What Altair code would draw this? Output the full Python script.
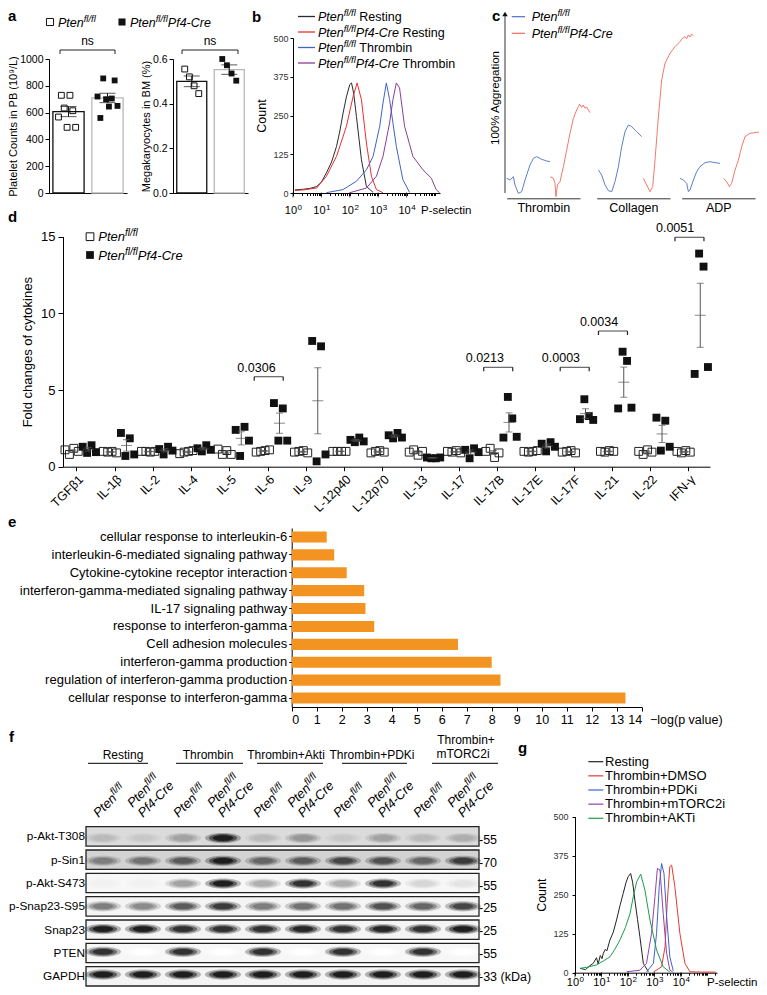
import altair as alt
import pandas as pd

FONT = "Liberation Sans"
W, H = 751, 979


def cx(v):
    return v - 8


def cy(v):
    return v - 8


ONE = pd.DataFrame({"k": [0]})

_chars = " !%()+-./0123456789:ABCDEFGHIJKLMNOPQRSTUVWXYZabcdefghijklmnopqrstuvwxyz"
_wid = ([278, 278, 889, 333, 333, 584, 333, 278, 278] + [556] * 10 + [278]
        + [667, 667, 722, 722, 667, 611, 778, 722, 278, 500, 667, 556, 833, 722, 778, 667, 778, 722, 667, 611, 722, 667, 944, 667, 667, 611]
        + [556, 556, 500, 556, 556, 278, 556, 556, 222, 222, 500, 222, 833, 556, 556, 556, 556, 333, 500, 278, 556, 500, 722, 500, 500, 500])
AW = dict(zip(_chars, _wid))


def tw(s, fs):
    return sum(AW.get(ch, 556) for ch in s) * fs / 1000.0


def txt(text, x, y, fs=12.5, style="normal", weight="normal", align="left", baseline="middle", color="black", angle=0):
    return alt.Chart(ONE).mark_text(text=text, font=FONT, fontSize=fs, fontStyle=style, fontWeight=weight,
                                    align=align, baseline=baseline, color=color, angle=angle).encode(
        x=alt.value(x), y=alt.value(y))


def rich(x, y, parts, fs=12.5, sfs=9.5, color="black"):
    out, cur = [], x
    for t, kind in parts:
        lead = len(t) - len(t.lstrip(" "))
        t2 = t.lstrip(" ")
        if kind == "sup":
            cur += tw(" " * lead, sfs)
            out.append(txt(t2, cur, y - fs * 0.4, fs=sfs, style="italic", color=color, baseline="alphabetic"))
            cur += tw(t2, sfs)
        else:
            cur += tw(" " * lead, fs)
            out.append(txt(t2, cur, y, fs=fs, style="italic" if kind == "i" else "normal", color=color, baseline="alphabetic"))
            cur += tw(t2, fs)
    return out


def hrule(x1, x2, y, color="#222222", w=1.0):
    return alt.Chart(ONE).mark_rule(color=color, strokeWidth=w).encode(x=alt.value(x1), x2=alt.value(x2), y=alt.value(y))


def vrule(x, y1, y2, color="#222222", w=1.0):
    return alt.Chart(ONE).mark_rule(color=color, strokeWidth=w).encode(x=alt.value(x), y=alt.value(y1), y2=alt.value(y2))


def sq(x, y, filled, size=50):
    return alt.Chart(ONE).mark_point(shape="square", filled=filled, size=size, color="#111111", strokeWidth=1,
                                     opacity=1).encode(x=alt.value(x), y=alt.value(y))


FL = [("Pten", "i"), ("fl/fl", "sup")]
CRE = FL + [("Pf4-Cre", "i")]

# ---------------- data ----------------
# a
a1_fl = [567, 729, 634, 490, 729, 614, 490]
a1_cre = [720, 560, 855, 700, 645, 705, 840, 650]
a2_fl = [0.555, 0.52, 0.48, 0.445]
a2_cre = [0.6, 0.572, 0.535, 0.503]

# b (P-selectin intensity, count)
b_rest_x = [1.17, 2.3, 4, 6.8, 10, 15, 22.8, 34, 44.7, 58, 76, 100, 115, 138, 171, 257, 385, 660]
b_rest_c = [10, 12, 15, 21, 35, 65, 100, 150, 200, 258, 310, 350, 355, 320, 247, 107, 21, 2]
b_crerest_x = [1.17, 2.3, 6.8, 15, 34, 76, 131, 181, 257, 385, 577, 865, 1475]
b_crerest_c = [8, 10, 16, 54, 118, 215, 312, 355, 301, 161, 54, 11, 1]
b_thr_x = [15, 58, 171, 385, 660, 1130, 1475, 1940, 2520, 4350, 7400, 12700]
b_thr_c = [1, 11, 38, 75, 118, 215, 290, 355, 301, 150, 43, 2]
b_crethr_x = [100, 385, 865, 1475, 2520, 3300, 4350, 5650, 8500, 16700, 37500, 74000, 110000, 145000]
b_crethr_c = [1, 16, 54, 118, 226, 301, 355, 339, 215, 118, 75, 48, 11, 1]

# c (time, % aggregation)
thr_fl_t = [0, 3.3, 6.7, 8.3, 11.7, 15, 18.3, 23.3, 26.7, 30, 35, 40, 43.3]
thr_fl_v = [1, 0, 2, -3, -8, -7, 0, 9, 13, 14, 12.4, 11.4, 11]
thr_cre_t = [43.3, 46.7, 48.3, 49.3, 50.7, 53.3, 56.7, 60, 63.3, 66.7, 70, 71.7, 73, 75, 76.5, 78.3, 80, 81.7, 83.3]
thr_cre_v = [2, 1, -2, -10, -3, -1, 8, 18, 28, 37, 42, 44, 45.5, 43.6, 45, 43, 43.8, 42, 40.4]
col_fl_t = [1.7, 5, 8.3, 11.7, 15, 18.3, 21.7, 25, 28.3, 31.7, 35, 40, 45]
col_fl_v = [6, 3, -3, -6.4, -7, -1, 8, 20, 29, 33, 32, 29, 26]
col_cre_t = [46.7, 50, 53.3, 56, 58.3, 61.7, 65, 68.3, 73.3, 78.3, 83.3, 85, 88.3, 90, 91.7, 93.3, 95, 96.7]
col_cre_v = [1, -3, -7, -4, 12, 38, 60, 70, 76, 80, 83, 84.5, 86, 84.8, 87, 85.8, 87.5, 86.5]
adp_fl_t = [-1.7, 1.7, 5, 6.7, 8.3, 11.7, 15, 18.3, 23.3, 28.3, 33.3, 38.3]
adp_fl_v = [1, 0, -2, -7, -6, 0, 5, 8, 10.4, 11, 10.4, 10]
adp_cre_t = [41.7, 45, 47.7, 50, 53.3, 56.7, 60, 63.3, 68.3, 75, 80, 85]
adp_cre_v = [1, -1, -4, -2, 6, 12, 20, 26, 28, 28.6, 29, 28]

# d
d_cats = ["TGFβ1", "IL-1β", "IL-2", "IL-4", "IL-5", "IL-6", "IL-9", "L-12p40", "L-12p70", "IL-13",
          "IL-17", "IL-17B", "IL-17E", "IL-17F", "IL-21", "IL-22", "IFN-γ"]
d_fl = [[1.1, 0.8, 1.2, 1.0], [1.0, 0.95, 1.0, 0.9], [1.0, 1.0, 0.95, 1.0], [0.85, 0.95, 1.0, 1.05],
        [1.15, 0.8, 1.05, 0.8], [0.95, 1.0, 1.05, 1.1], [0.95, 1.0, 1.05, 0.9], [1.0, 1.0, 1.0, 1.0],
        [0.9, 1.0, 1.05, 0.95], [0.95, 1.1, 0.75, 1.0], [1.0, 0.95, 1.05, 0.9], [1.0, 1.2, 0.6, 0.9],
        [1.0, 0.95, 1.0, 1.05], [0.95, 1.0, 1.05, 0.9], [1.0, 0.95, 1.05, 1.0], [1.0, 0.8, 1.1, 0.95],
        [1.0, 0.9, 1.05, 0.95]]
d_cre = [[1.3, 0.9, 1.4, 0.95], [2.2, 0.7, 1.85, 0.8], [1.15, 0.8, 1.3, 1.05], [1.2, 1.0, 1.4, 1.1],
         [2.4, 0.7, 2.6, 1.7], [4.15, 1.7, 3.8, 1.7], [8.2, 0.35, 7.85, 0.8], [1.75, 1.6, 1.9, 1.65],
         [2.05, 1.85, 2.2, 1.9], [0.6, 0.55, 0.55, 0.6], [1.1, 0.55, 1.2, 0.95], [1.9, 4.55, 3.15, 1.95],
         [1.5, 1.0, 1.6, 1.3], [3.1, 4.4, 3.3, 3.05], [3.8, 7.5, 6.9, 3.85], [3.2, 1.05, 3.0, 1.3],
         [6.05, 13.9, 13.05, 6.5]]
d_p_cats = ["IL-6", "IL-17B", "IL-17F", "IL-21", "IFN-γ"]
d_p_level = [5.87, 6.48, 6.48, 8.85, 14.96]
d_p_text = ["0.0306", "0.0213", "0.0003", "0.0034", "0.0051"]

# e
e_terms = ["cellular response to interleukin-6", "interleukin-6-mediated signaling pathway",
           "Cytokine-cytokine receptor interaction", "interferon-gamma-mediated signaling pathway",
           "IL-17 signaling pathway", "response to interferon-gamma", "Cell adhesion molecules",
           "interferon-gamma production", "regulation of interferon-gamma production",
           "cellular response to interferon-gamma"]
e_vals = [1.4, 1.7, 2.2, 2.9, 2.95, 3.3, 6.65, 8.0, 8.35, 13.35]

# f
proteins = ["p-Akt-T308", "p-Sin1", "p-Akt-S473", "p-Snap23-S95", "Snap23", "PTEN", "GAPDH"]
mw_labels = ["-55", "-70", "-55", "-25", "-25", "-55", "-33 (kDa)"]
blot_bg = [0.13, 0.16, 0.03, 0.04, 0.04, 0.03, 0.04]
blot_T308 = [0.25, 0.2, 0.35, 0.95, 0.25, 0.4, 0.2, 0.35, 0.25, 0.3]
blot_Sin1 = [0.5, 0.55, 0.65, 0.95, 0.6, 0.65, 0.75, 0.7, 0.6, 0.8]
blot_S473 = [0.05, 0.05, 0.35, 0.95, 0.3, 0.85, 0.3, 0.85, 0.15, 0.1]
blot_S95 = [0.5, 0.45, 0.65, 0.8, 0.5, 0.55, 0.55, 0.7, 0.6, 0.75]
blot_Snap23 = [0.95, 0.95, 0.85, 0.85, 0.85, 0.9, 0.85, 0.9, 0.85, 0.95]
blot_PTEN = [0.85, 0, 0.85, 0, 0.85, 0, 0.85, 0, 0.85, 0]
blot_GAPDH = [0.95, 0.95, 0.95, 0.95, 0.95, 0.95, 0.95, 0.95, 0.95, 0.95]
blot_rows = [blot_T308, blot_Sin1, blot_S473, blot_S95, blot_Snap23, blot_PTEN, blot_GAPDH]
lane_geno = ["fl", "cre"] * 5

# g
g_rest_x = [1.55, 2.5, 3.6, 4.9, 6.5, 7.5, 9, 10.5, 11.7, 14, 16, 20.9, 28, 37, 50, 66, 85, 102, 126, 150, 182, 230, 282, 380, 589]
g_rest_c = [14, 10, 22, 30, 48, 28, 55, 45, 62, 75, 70, 105, 130, 169, 215, 254, 290, 308, 318, 290, 233, 170, 115, 30, 3]
g_dmso_x = [912, 1862, 2512, 3020, 3802, 4467, 5888, 9120, 14125, 21878, 60000, 200000]
g_dmso_c = [2, 19, 83, 222, 340, 345, 276, 126, 30, 3, 2, 2]
g_pdk_x = [501, 912, 1202, 1514, 1862, 2291, 2884, 3802, 5129]
g_pdk_c = [2, 30, 126, 276, 350, 318, 180, 51, 6]
g_mtor_x = [89, 282, 501, 776, 1047, 1288, 1622, 2138, 2884, 3802, 5012]
g_mtor_c = [3, 8, 30, 126, 244, 334, 329, 190, 62, 9, 1]
g_akt_x = [1.55, 3, 6.6, 12, 20.9, 32, 50, 80, 120, 160, 214, 302, 437, 676, 1202, 2138, 3802]
g_akt_c = [14, 18, 25, 38, 51, 75, 105, 145, 190, 245, 292, 316, 265, 169, 73, 19, 2]

layers = []

# ---------------- panel letters ----------------
for t, x, y in [("a", 0, 13), ("b", 244, 14), ("c", 484, 13), ("d", 0, 214), ("e", 0, 519), ("f", 1, 734), ("g", 510, 745)]:
    layers.append(txt(t, x, y, fs=15, weight="bold", baseline="alphabetic"))


# ---------------- panel a ----------------
def panel_bar(fl, cre, x0, x1, ydom, yvals, yfmt, ytitle, nslots, jr):
    df = pd.DataFrame({"g": ["fl"] * len(fl) + ["cre"] * len(cre),
                       "rep": list(range(len(fl))) + list(range(len(cre))),
                       "v": fl + cre})
    pin, pout = 0.2, 0.1
    step = (x1 - x0) / (2 - pin + 2 * pout)
    bw = step * (1 - pin)
    xs = alt.Scale(domain=["fl", "cre"], range=[x0, x1], paddingInner=pin, paddingOuter=pout)
    ys = alt.Scale(domain=ydom, range=[cy(193), cy(59)], nice=False, zero=False)
    xax = alt.Axis(orient="bottom", offset=cy(193) - H, labels=False, ticks=False, title=None)
    yax = alt.Axis(orient="left", offset=-x0, values=yvals, format=yfmt, title=ytitle, tickSize=4,
                   labelFontSize=10.5, titleFontSize=11, titlePadding=1, labelPadding=2)
    XA = alt.X("g:N", scale=xs, axis=xax)
    X = alt.X("g:N", scale=xs, axis=None)

    def Y(f):
        return alt.Y(f, scale=ys, axis=None)

    bars = alt.Chart(df).mark_bar(fill="white", strokeWidth=1.3).encode(
        x=XA, y=alt.Y("mean(v):Q", scale=ys, axis=yax),
        stroke=alt.Stroke("g:N", scale=alt.Scale(domain=["fl", "cre"], range=["#111111", "#b8b8b8"]), legend=None))
    agg = alt.Chart(df).transform_aggregate(m="mean(v)", s="stderr(v)", groupby=["g"]).transform_calculate(
        lo="datum.m - datum.s", hi="datum.m + datum.s")
    er = agg.mark_rule(color="#111111", strokeWidth=1).encode(x=X, y=Y("lo:Q"), y2="hi:Q")
    chi = agg.mark_tick(color="#111111", size=16, thickness=1).encode(x=X, y=Y("hi:Q"))
    clo = agg.mark_tick(color="#111111", size=16, thickness=1).encode(x=X, y=Y("lo:Q"))
    js = alt.Scale(domain=list(range(nslots)), range=[bw / 2 + jr[0], bw / 2 + jr[1]], paddingInner=0, paddingOuter=0)
    p1 = alt.Chart(df).transform_filter("datum.g == 'fl'").mark_point(
        shape="square", size=34, filled=False, color="#111111", strokeWidth=1, opacity=1).encode(
        x=X, xOffset=alt.XOffset("rep:O", scale=js), y=Y("v:Q"))
    p2 = alt.Chart(df).transform_filter("datum.g == 'cre'").mark_point(
        shape="square", size=34, filled=True, color="#111111", opacity=1).encode(
        x=X, xOffset=alt.XOffset("rep:O", scale=js), y=Y("v:Q"))
    return [bars, er, chi, clo, p1, p2]


layers += panel_bar(a1_fl, a1_cre, cx(49), cx(127), [0, 1000], [0, 200, 400, 600, 800, 1000], "d",
                    "Platelet Counts in PB (10⁹/L)", 8, (-10, 10))
layers += panel_bar(a2_fl, a2_cre, cx(173), cx(248), [0, 0.6], [0, 0.2, 0.4, 0.6], ".1f",
                    "Megakaryocytes in BM (%)", 4, (-7, 7))
# ns brackets
for xa, xb in [(52, 107), (174, 230)]:
    layers += [hrule(xa, xb, 42), vrule(xa, 42, 46), vrule(xb, 42, 46),
               txt("ns", (xa + xb) / 2, 37, fs=12, align="center", baseline="alphabetic")]
# legend a
layers += [sq(42, 14, False)] + rich(50, 18.5, FL) + [sq(114, 14, True)] + rich(122, 18.5, CRE)


# ---------------- log histogram helper ----------------
def hist_panel(series, colors, x0px, x1px, xmax, yb, yt, lab_base, psel_x, ylabpad=2):
    rows = []
    for name, xs_, cs_ in series:
        for i, (a, b) in enumerate(zip(xs_, cs_)):
            rows.append({"s": name, "x": a, "c": b, "i": i})
    df = pd.DataFrame(rows)
    xs = alt.Scale(type="log", domain=[1, xmax], range=[x0px, x1px], nice=False)
    ys = alt.Scale(domain=[0, 500], range=[yb, yt], nice=False)
    minor = [d * k for d in [1, 10, 100, 1000, 10000, 100000] for k in range(1, 10) if d * k <= xmax]
    XA = alt.X("x:Q", scale=xs, axis=alt.Axis(orient="bottom", offset=yb - H, values=minor, labels=False,
                                              title=None, tickSize=2.5))
    X = alt.X("x:Q", scale=xs, axis=None)
    Y = alt.Y("c:Q", scale=ys, axis=alt.Axis(orient="left", offset=-x0px, values=[0, 125, 250, 375, 500],
                                             title="Count", tickSize=3, labelFontSize=9, labelColor="#333333",
                                             titleFontSize=12.5, titlePadding=4, labelPadding=ylabpad))
    lines = alt.Chart(df).mark_line(strokeWidth=1).encode(
        x=XA, y=Y, color=alt.Color("s:N", scale=alt.Scale(domain=[s[0] for s in series], range=colors), legend=None),
        order="i:Q")
    dec = pd.DataFrame({"x": [1, 10, 100, 1000, 10000], "e": ["0", "1", "2", "3", "4"]})
    big = alt.Chart(dec).mark_tick(color="black", size=5, thickness=1, yOffset=2).encode(x=X, y=alt.value(yb))
    ten = alt.Chart(dec).mark_text(text="10", font=FONT, fontSize=11, align="right", baseline="alphabetic",
                                   dx=tw("10", 11) / 2 - 2).encode(x=X, y=alt.value(lab_base))
    ex = alt.Chart(dec).mark_text(font=FONT, fontSize=8, align="left", baseline="alphabetic",
                                  dx=tw("10", 11) / 2 - 1.5).encode(x=X, y=alt.value(lab_base - 4.5), text="e:N")
    return [lines, big, ten, ex, txt("P-selectin", psel_x, lab_base, fs=11.5, baseline="alphabetic")]


# ---------------- panel b ----------------
B_COL = ["#2b2b2b", "#e8302f", "#3f63c6", "#8c3d99"]
layers += hist_panel([("r", b_rest_x, b_rest_c), ("cr", b_crerest_x, b_crerest_c),
                      ("t", b_thr_x, b_thr_c), ("ct", b_crethr_x, b_crethr_c)],
                     B_COL, cx(293), cx(440), 1.5e5, cy(193), cy(38), cy(214), cx(421))
for yc, col, parts in [(8.5, B_COL[0], FL + [(" Resting", "n")]), (24, B_COL[1], CRE + [(" Resting", "n")]),
                       (39.5, B_COL[2], FL + [(" Thrombin", "n")]), (55, B_COL[3], CRE + [(" Thrombin", "n")])]:
    layers.append(hrule(290, 307, yc, col, 1.3))
    layers += rich(310, yc + 4.5, parts)

# ---------------- panel c ----------------
C_BLUE, C_RED = "#4d6fc4", "#ef6a5a"
for name, x0, ft, fv, ct, cv in [("Thrombin", 506.7, thr_fl_t, thr_fl_v, thr_cre_t, thr_cre_v),
                                 ("Collagen", 596.7, col_fl_t, col_fl_v, col_cre_t, col_cre_v),
                                 ("ADP", 681.7, adp_fl_t, adp_fl_v, adp_cre_t, adp_cre_v)]:
    df = pd.DataFrame({"t": ft + ct, "v": fv + cv, "s": ["fl"] * len(ft) + ["cre"] * len(ct)})
    xs = alt.Scale(domain=[0, 73.3], range=[cx(x0), cx(x0 + 73.3)], nice=False, zero=False)
    ys = alt.Scale(domain=[0, 100], range=[cy(180), cy(13.3)], nice=False, zero=False)
    layers.append(alt.Chart(df).mark_line(strokeWidth=0.9).encode(
        x=alt.X("t:Q", scale=xs, axis=alt.Axis(orient="bottom", offset=cy(198.3) - H, ticks=False, labels=False,
                                               title=name, titleFontSize=12.5, titleFontWeight="normal",
                                               titlePadding=3, domainColor="#333333")),
        y=alt.Y("v:Q", scale=ys, axis=None),
        color=alt.Color("s:N", scale=alt.Scale(domain=["fl", "cre"], range=[C_BLUE, C_RED]), legend=None)))
layers.append(vrule(cx(505), cy(193), cy(16), "#333333", 1))
layers.append(alt.Chart(ONE).mark_point(shape="triangle-up", filled=True, size=30, color="#111111", opacity=1).encode(
    x=alt.value(cx(505)), y=alt.value(cy(14))))
layers.append(txt("100% Aggregation", cx(496), cy(98), fs=11.5, align="center", angle=270))
layers += [hrule(503.7, 517, 8.7, C_BLUE, 1.2)] + rich(523.7, 13.2, FL)
layers += [hrule(503.7, 517, 25.3, C_RED, 1.2)] + rich(523.7, 29.8, CRE)

# ---------------- panel d ----------------
rows = []
for i, c in enumerate(d_cats):
    for r, v in enumerate(d_fl[i]):
        rows.append({"cat": c, "g": "fl", "rep": r, "v": v})
    for r, v in enumerate(d_cre[i]):
        rows.append({"cat": c, "g": "cre", "rep": r, "v": v})
ddf = pd.DataFrame(rows)
d_x0, d_x1 = cx(63), cx(710)
d_pin, d_pout = 0.3, 0.1075
d_step = (d_x1 - d_x0) / (len(d_cats) - d_pin + 2 * d_pout)
d_bw = d_step * (1 - d_pin)
dxs = alt.Scale(domain=d_cats, range=[d_x0, d_x1], paddingInner=d_pin, paddingOuter=d_pout, align=0.07)
dys = alt.Scale(domain=[0, 15], range=[cy(466.7), cy(236.7)], nice=False, zero=False)
DXA = alt.X("cat:N", scale=dxs, axis=alt.Axis(orient="bottom", offset=cy(466.7) - H, title=None, labelAngle=315,
                                              labelFontSize=12.5, tickSize=4, labelPadding=2, labelOverlap=False))
DX = alt.X("cat:N", scale=dxs, axis=None)
DYAX = alt.Axis(orient="left", offset=-cx(63), values=[0, 5, 10, 15], title="Fold changes of cytokines",
                tickSize=5, labelFontSize=13, titleFontSize=13, titlePadding=6, labelPadding=3)


def DY(f):
    return alt.Y(f, scale=dys, axis=None)


jd = alt.Scale(domain=list(range(8)), range=[d_bw / 2 - 12, d_bw / 2 + 19], paddingInner=0, paddingOuter=0)
dbase = alt.Chart(ddf).transform_calculate(slot="(datum.g == 'cre' ? 4 : 0) + datum.rep")
layers += [
    dbase.transform_filter("datum.g == 'fl'").mark_point(shape="square", size=62, filled=False, color="#222222",
                                                         strokeWidth=1, opacity=1).encode(
        x=DXA, y=alt.Y("v:Q", scale=dys, axis=DYAX), xOffset=alt.XOffset("slot:O", scale=jd)),
    dbase.transform_filter("datum.g == 'cre'").mark_point(shape="square", size=62, filled=True, color="#111111",
                                                          opacity=1).encode(
        x=DX, y=DY("v:Q"), xOffset=alt.XOffset("slot:O", scale=jd)),
]
dagg = alt.Chart(ddf).transform_aggregate(m="mean(v)", s="stderr(v)", groupby=["cat", "g"]).transform_calculate(
    lo="datum.m - datum.s", hi="datum.m + datum.s")
for g, xo in [("fl", -4.3), ("cre", 11.3)]:
    bb = dagg.transform_filter("datum.g == '%s'" % g)
    layers += [
        bb.mark_rule(color="#555555", strokeWidth=1, xOffset=xo).encode(x=DX, y=DY("lo:Q"), y2="hi:Q"),
        bb.mark_tick(color="#555555", size=7, thickness=1, xOffset=xo).encode(x=DX, y=DY("hi:Q")),
        bb.mark_tick(color="#555555", size=7, thickness=1, xOffset=xo).encode(x=DX, y=DY("lo:Q")),
        bb.mark_tick(color="#555555", size=11, thickness=1, xOffset=xo).encode(x=DX, y=DY("m:Q")),
    ]
pdf = pd.DataFrame({"cat": d_p_cats, "v": d_p_level, "t": d_p_text})
layers += [
    alt.Chart(pdf).mark_tick(size=29, thickness=1.2, color="#222222", xOffset=0.5).encode(x=DX, y=DY("v:Q")),
    alt.Chart(pdf).mark_rule(color="#222222", strokeWidth=1.2, xOffset=-14, y2Offset=4).encode(x=DX, y=DY("v:Q"), y2="v:Q"),
    alt.Chart(pdf).mark_rule(color="#222222", strokeWidth=1.2, xOffset=15, y2Offset=4).encode(x=DX, y=DY("v:Q"), y2="v:Q"),
    alt.Chart(pdf).mark_text(font=FONT, fontSize=12.5, baseline="alphabetic", dy=-5, xOffset=0.5).encode(
        x=DX, y=DY("v:Q"), text="t:N"),
]
layers += [sq(82, 228.7, False, 60)] + rich(90.3, 233.4, FL, 13, 10) + [sq(82, 247, True, 60)] + rich(90.3, 251.7, CRE, 13, 10)

# ---------------- panel e ----------------
edf = pd.DataFrame({"term": e_terms, "val": e_vals})
exs = alt.Scale(domain=[0, 14], range=[cx(291.7), cx(641.7)], nice=False)
eys = alt.Scale(domain=e_terms, range=[cy(528), cy(707)], paddingInner=0.38, paddingOuter=0.19)
layers.append(alt.Chart(edf).mark_bar(color="#F39322").encode(
    x=alt.X("val:Q", scale=exs, axis=alt.Axis(orient="bottom", offset=cy(707) - H, values=list(range(15)),
                                              title=None, tickSize=4, labelFontSize=12.5, labelPadding=2)),
    y=alt.Y("term:N", scale=eys, axis=alt.Axis(orient="left", offset=-cx(291.7), title=None, tickSize=3,
                                               labelFontSize=13, labelLimit=400, labelPadding=2,
                                               labelOverlap=False))))
layers.append(txt("−log(p value)", cx(650), cy(720), fs=12.5))

# ---------------- panel f ----------------
brows = []
for pi_, p in enumerate(proteins):
    for li, k in enumerate(blot_rows[pi_]):
        brows.append({"protein": p, "lane": li + 1, "k": k})
bdf = pd.DataFrame(brows)
prdf = pd.DataFrame({"protein": proteins, "bg": blot_bg, "mw": mw_labels})
lane_scale = alt.Scale(domain=[1, 10], range=[cx(103), cx(463)], nice=False, zero=False)
f_pin = 0.17
f_top = cy(826.7)
f_step = (H - 1 - f_top) / (len(proteins) - f_pin)
pys = alt.Scale(domain=proteins, range=[f_top, f_top + f_step * (len(proteins) - f_pin)],
                paddingInner=f_pin, paddingOuter=0)
PYA = alt.Y("protein:N", scale=pys, axis=alt.Axis(orient="left", offset=-cx(86), title=None, ticks=False,
                                                  domain=False, labelFontSize=11.8, labelPadding=1.5, labelLimit=300))
PY = alt.Y("protein:N", scale=pys, axis=None)
gray = alt.Scale(domain=[0, 1], range=["#ffffff", "#0a0a0a"])
ELL = "M-1,0A1,0.28,0,1,0,1,0A1,0.28,0,1,0,-1,0Z"
boxes = alt.Chart(prdf).transform_calculate(lo="0.575", hi="10.4")
layers.append(boxes.mark_rect(strokeWidth=0).encode(
    x=alt.X("lo:Q", scale=lane_scale, axis=None), x2="hi:Q", y=PYA,
    fill=alt.Fill("bg:Q", scale=gray, legend=None)))
for size, op in [(1300, 0.3), (800, 0.55), (420, 0.9)]:
    layers.append(alt.Chart(bdf).mark_point(shape=ELL, filled=True, size=size, opacity=op, strokeWidth=0).encode(
        x=alt.X("lane:Q", scale=lane_scale, axis=None), y=PY, fill=alt.Fill("k:Q", scale=gray, legend=None)))
layers.append(boxes.mark_rect(fillOpacity=0, stroke="#222222", strokeWidth=1.3).encode(
    x=alt.X("lo:Q", scale=lane_scale, axis=None), x2="hi:Q", y=PY))
layers.append(boxes.mark_text(font=FONT, fontSize=12.5, align="left", baseline="middle", dy=2).encode(
    x=alt.X("hi:Q", scale=lane_scale, axis=None), y=PY, text="mw:N"))
lane_df = pd.DataFrame({"lane": list(range(1, 11)), "g": lane_geno})
ptw = tw("Pten", 13)
y0 = cy(818)
for gsel, t, fs, ddx, ddy in [("fl", "Pten", 13, -3.2, -3.2), ("fl", "fl/fl", 10, -3.2 + ptw, -8.2),
                              ("cre", "Pten", 13, -0.5, -14.5), ("cre", "fl/fl", 10, -0.5 + ptw, -19.5),
                              ("cre", "Pf4-Cre", 13, 0, 0)]:
    layers.append(alt.Chart(lane_df).transform_filter("datum.g == '%s'" % gsel).mark_text(
        text=t, font=FONT, fontSize=fs, fontStyle="italic", angle=315, align="left",
        baseline="alphabetic", dx=ddx, dy=ddy).encode(
        x=alt.X("lane:Q", scale=lane_scale, axis=None), y=alt.value(y0)))
# group headers
for t, xc, x1, x2 in [("Resting", 123, 88, 148), ("Thrombin", 208, 176, 243), ("Thrombin+Akti", 286, 257, 323),
                      ("Thrombin+PDKi", 372, 342, 407)]:
    layers.append(txt(t, cx(xc), cy(755), fs=12, align="center"))
    layers.append(hrule(cx(x1), cx(x2), cy(763.3), "#333333", 1.2))
layers.append(txt("Thrombin+", cx(466), cy(740), fs=12, align="center"))
layers.append(txt("mTORC2i", cx(463), cy(754.3), fs=12, align="center"))
layers.append(hrule(cx(432), cx(498), cy(763.3), "#333333", 1.2))

# ---------------- panel g ----------------
G_COL = ["#222222", "#e53935", "#3b64d0", "#8e44ad", "#1b9e4b"]
layers += hist_panel([("r", g_rest_x, g_rest_c), ("d", g_dmso_x, g_dmso_c), ("p", g_pdk_x, g_pdk_c),
                      ("m", g_mtor_x, g_mtor_c), ("a", g_akt_x, g_akt_c)],
                     G_COL, cx(575), cx(717), 2.3e5, cy(972.7), cy(816.7), cy(986), cx(707), ylabpad=4)
for k, (lab, col) in enumerate(zip(["Resting", "Thrombin+DMSO", "Thrombin+PDKi", "Thrombin+mTORC2i", "Thrombin+AKTi"], G_COL)):
    yc = 753.7 + k * 14.15
    layers.append(hrule(580.3, 595.3, yc, col, 1.2))
    layers.append(txt(lab, 597, yc, fs=13))

chart = alt.layer(*layers).resolve_scale(
    x="independent", y="independent", color="independent", fill="independent", stroke="independent",
    xOffset="independent"
).properties(
    width=W, height=H, autosize=alt.AutoSizeParams(type="none"), padding=0
).configure_view(stroke=None).configure_axis(
    grid=False, labelFont=FONT, titleFont=FONT, domainColor="black", tickColor="black", labelColor="black",
    titleColor="black", titleFontWeight="normal"
)

chart.save("out.html", embed_options={"renderer": "svg", "actions": False})
